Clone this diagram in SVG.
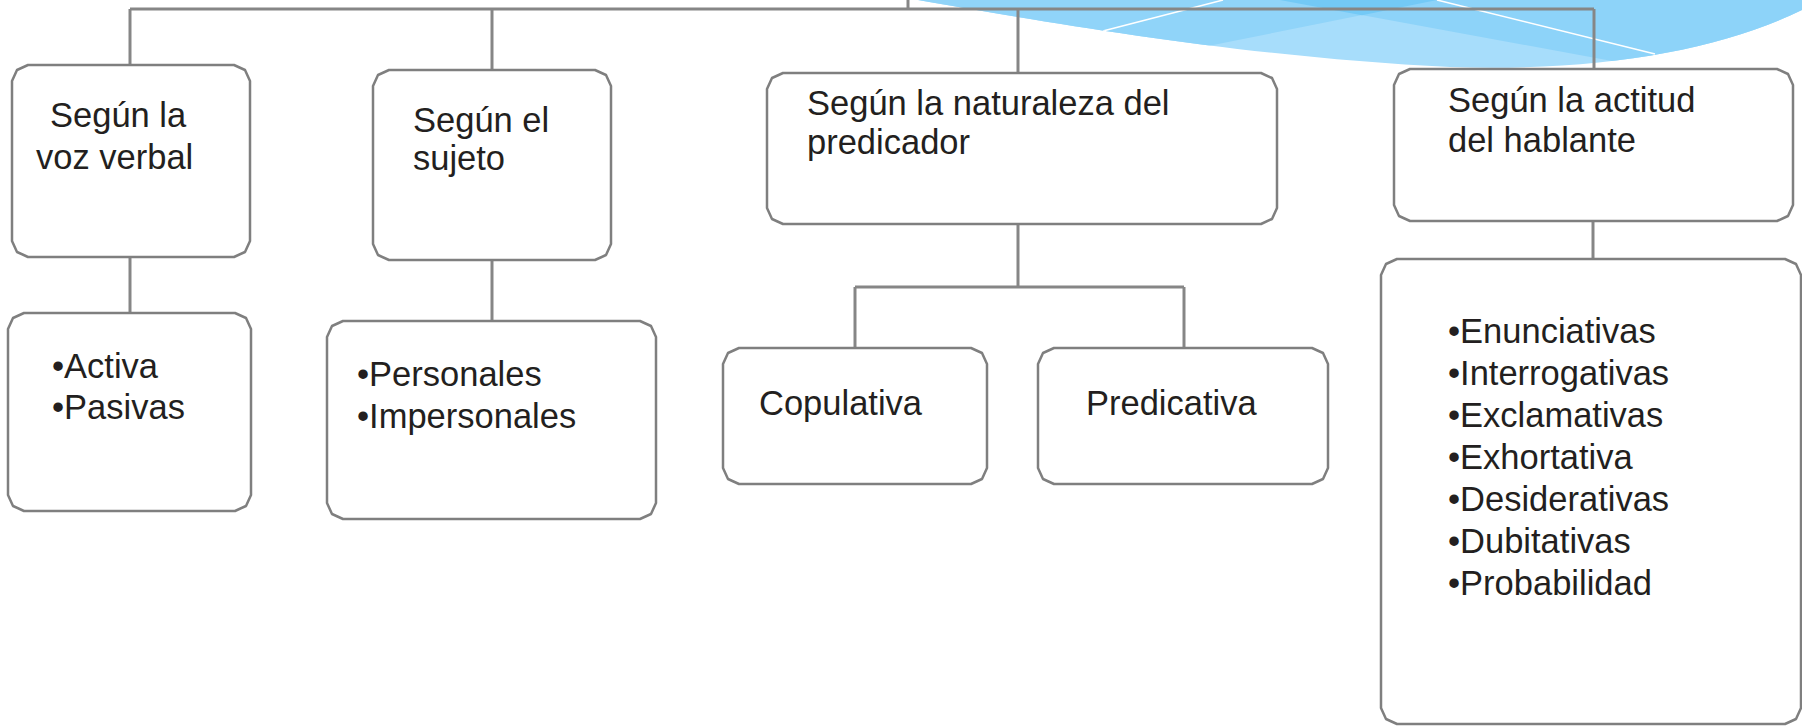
<svg xmlns="http://www.w3.org/2000/svg" width="1802" height="727" viewBox="0 0 1802 727">
<style>
.box{fill:#ffffff;stroke:#7f7f7f;stroke-width:2.5;stroke-linejoin:round}
.ln{fill:none;stroke:#868686;stroke-width:3}
.t{font-family:"Liberation Sans",Arial,sans-serif;font-size:34.5px;fill:#231f20}
</style>
<defs>
<clipPath id="wave"><path d="M918,0 C1045,22 1250,58 1450,67 C1600,72 1720,50 1802,10 L1802,0 Z"/></clipPath>
</defs>
<rect width="1802" height="727" fill="#ffffff"/>
<g id="decoration">
<g clip-path="url(#wave)">
<rect x="900" y="0" width="902" height="80" fill="#a7ddfb"/>
<polygon points="900,0 1437,0 1203,47 1100,68 900,108" fill="#90d4f9"/>
<polygon points="1280,0 1900,0 1900,114" fill="#8dd3f9"/>
<polygon points="1280,0 1437,0 1362,15.2" fill="#73c9f6"/>
<line x1="1103" y1="31" x2="1223" y2="0" stroke="#ffffff" stroke-width="1.5"/>
<line x1="1437" y1="0" x2="1655" y2="54" stroke="#ffffff" stroke-width="1.5"/>
</g>
</g>
<g id="connectors">
<line class="ln" x1="908" y1="0" x2="908" y2="9"/>
<line class="ln" x1="130" y1="9" x2="1594" y2="9"/>
<line class="ln" x1="130" y1="9" x2="130" y2="65"/>
<line class="ln" x1="492" y1="9" x2="492" y2="70"/>
<line class="ln" x1="1018" y1="9" x2="1018" y2="73"/>
<line class="ln" x1="1594" y1="9" x2="1594" y2="69"/>
<line class="ln" x1="130" y1="257" x2="130" y2="313"/>
<line class="ln" x1="492" y1="260" x2="492" y2="321"/>
<line class="ln" x1="1018" y1="224" x2="1018" y2="287"/>
<line class="ln" x1="855" y1="287" x2="1184" y2="287"/>
<line class="ln" x1="855" y1="287" x2="855" y2="348"/>
<line class="ln" x1="1184" y1="287" x2="1184" y2="348"/>
<line class="ln" x1="1593" y1="221" x2="1593" y2="259"/>
</g>
<g id="n-voz">
<path class="box" d="M28,65 H234 L245,70 L250,81 V241 L245,252 L234,257 H28 L17,252 L12,241 V81 L17,70 Z"/>
<text class="t" x="50" y="127">Según la</text>
<text class="t" x="36" y="169">voz verbal</text>
</g>
<g id="n-voz-items">
<path class="box" d="M24,313 H235 L246,318 L251,329 V495 L246,506 L235,511 H24 L13,506 L8,495 V329 L13,318 Z"/>
<text class="t" x="52" y="378">•Activa</text>
<text class="t" x="52" y="419">•Pasivas</text>
</g>
<g id="n-sujeto">
<path class="box" d="M389,70 H595 L606,75 L611,86 V244 L606,255 L595,260 H389 L378,255 L373,244 V86 L378,75 Z"/>
<text class="t" x="413" y="132">Según el</text>
<text class="t" x="413" y="170">sujeto</text>
</g>
<g id="n-sujeto-items">
<path class="box" d="M343,321 H640 L651,326 L656,337 V503 L651,514 L640,519 H343 L332,514 L327,503 V337 L332,326 Z"/>
<text class="t" x="357" y="386">•Personales</text>
<text class="t" x="357" y="428">•Impersonales</text>
</g>
<g id="n-naturaleza">
<path class="box" d="M783,73 H1261 L1272,78 L1277,89 V208 L1272,219 L1261,224 H783 L772,219 L767,208 V89 L772,78 Z"/>
<text class="t" x="807" y="115">Según la naturaleza del</text>
<text class="t" x="807" y="154">predicador</text>
</g>
<g id="n-copulativa">
<path class="box" d="M739,348 H971 L982,353 L987,364 V468 L982,479 L971,484 H739 L728,479 L723,468 V364 L728,353 Z"/>
<text class="t" x="759" y="415">Copulativa</text>
</g>
<g id="n-predicativa">
<path class="box" d="M1054,348 H1312 L1323,353 L1328,364 V468 L1323,479 L1312,484 H1054 L1043,479 L1038,468 V364 L1043,353 Z"/>
<text class="t" x="1086" y="415">Predicativa</text>
</g>
<g id="n-actitud">
<path class="box" d="M1410,69 H1777 L1788,74 L1793,85 V205 L1788,216 L1777,221 H1410 L1399,216 L1394,205 V85 L1399,74 Z"/>
<text class="t" x="1448" y="112">Según la actitud</text>
<text class="t" x="1448" y="152">del hablante</text>
</g>
<g id="n-actitud-items">
<path class="box" d="M1397,259 H1785 L1796,264 L1801,275 V708 L1796,719 L1785,724 H1397 L1386,719 L1381,708 V275 L1386,264 Z"/>
<text class="t" x="1448" y="343">•Enunciativas</text>
<text class="t" x="1448" y="385">•Interrogativas</text>
<text class="t" x="1448" y="427">•Exclamativas</text>
<text class="t" x="1448" y="469">•Exhortativa</text>
<text class="t" x="1448" y="511">•Desiderativas</text>
<text class="t" x="1448" y="553">•Dubitativas</text>
<text class="t" x="1448" y="595">•Probabilidad</text>
</g>
</svg>
